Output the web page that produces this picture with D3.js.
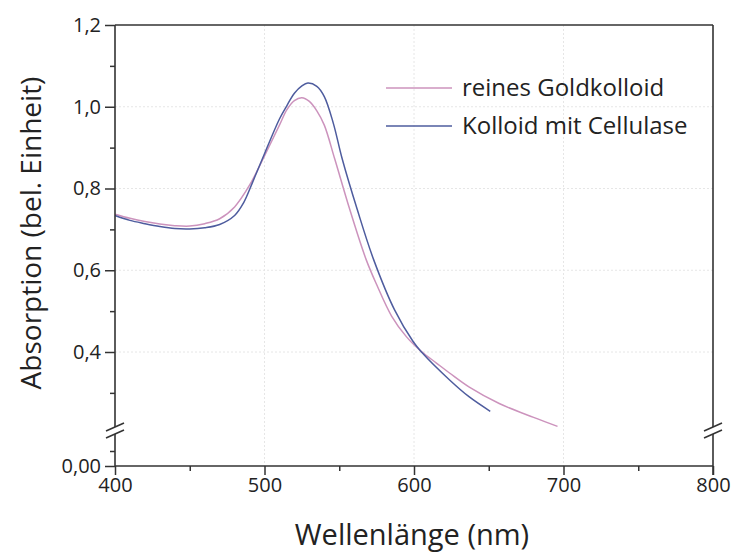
<!DOCTYPE html>
<html>
<head>
<meta charset="utf-8">
<script src="https://cdn.jsdelivr.net/npm/d3@7"></script>
<style>
  body { margin: 0; background: #fff; }
  svg { font-family: "Open Sans", "Noto Sans", sans-serif; }
</style>
</head>
<body>
<div id="chart-area"></div>
<script>
// wavelength (nm) / absorption values
var pureWl  = [400, 410, 420, 430, 440, 450, 460, 470, 480, 490, 500, 510, 515, 520, 525, 530, 535, 540, 547, 557, 568, 575, 585, 595, 605, 615, 624, 637, 657, 680, 696];
var pureAbs = [0.737, 0.727, 0.719, 0.713, 0.709, 0.708, 0.714, 0.726, 0.755, 0.808, 0.88, 0.955, 0.993, 1.015, 1.022, 1.013, 0.99, 0.955, 0.872, 0.749, 0.626, 0.565, 0.488, 0.437, 0.401, 0.373, 0.348, 0.314, 0.274, 0.24, 0.218];

var cellWl  = [400, 410, 420, 430, 440, 450, 460, 470, 480, 486, 492, 500, 510, 515, 520, 525, 529, 535, 540, 546, 552, 562, 573, 587, 599.5, 605, 624, 637, 651];
var cellAbs = [0.734, 0.722, 0.714, 0.707, 0.702, 0.701, 0.704, 0.712, 0.734, 0.765, 0.815, 0.885, 0.97, 1.003, 1.033, 1.051, 1.058, 1.05, 1.025, 0.96, 0.872, 0.749, 0.626, 0.503, 0.425, 0.40, 0.331, 0.29, 0.255];

var seriesNames = ["reines Goldkolloid", "Kolloid mit Cellulase"];
var seriesColors = ["#cc93bd", "#4e5c9e"];

var xMajor = [400, 500, 600, 700, 800];
var xMinor = [450, 550, 650, 750];
var yMajor = [0.4, 0.6, 0.8, 1.0, 1.2];
var yMinor = [0.3, 0.5, 0.7, 0.9, 1.1];
var yLowMajor = [0];
var yLowMinor = [0.025];

var W = 736, H = 560;
// plot box (don't call these top/left... window.top is read only)
var pL = 115, pR = 713, pT = 25, pB = 466;
var breakY = 430;

var svg = d3.select("#chart-area").append("svg")
    .attr("width", W).attr("height", H);

var x = d3.scaleLinear().domain([400, 800]).range([pL, pR]);
// upper segment of the broken y axis
var y = d3.scaleLinear().domain([0.4, 1.2]).range([352, pT]);
// lower segment (only 0,00)
var yLow = d3.scaleLinear().domain([0, 0.05]).range([pB, pB - 30]);

function fmt(d) { return d3.format(".1f")(d).replace(".", ","); }

// grid
var grid = svg.append("g").attr("stroke", "#e6e6e6").attr("stroke-width", 1)
    .attr("stroke-dasharray", "2,2");
grid.selectAll("line.v").data([500, 600, 700]).enter().append("line")
    .attr("x1", function(d) { return x(d); }).attr("x2", function(d) { return x(d); })
    .attr("y1", pT).attr("y2", pB);
grid.selectAll("line.h").data([0.4, 0.6, 0.8, 1.0]).enter().append("line")
    .attr("x1", pL).attr("x2", pR)
    .attr("y1", function(d) { return y(d); }).attr("y2", function(d) { return y(d); });

// curves
var line = d3.line().curve(d3.curveCatmullRom.alpha(0.5))
    .x(function(d) { return x(d[0]); })
    .y(function(d) { return y(d[1]); });

var pure = d3.zip(pureWl, pureAbs);
var cell = d3.zip(cellWl, cellAbs);

svg.append("path").datum(pure)
    .attr("fill", "none").attr("stroke", seriesColors[0]).attr("stroke-width", 1.5)
    .attr("d", line);
svg.append("path").datum(cell)
    .attr("fill", "none").attr("stroke", seriesColors[1]).attr("stroke-width", 1.5)
    .attr("d", line);

// axes
var axisColor = "#333";
var tickFont = 20;

svg.append("g").attr("transform", "translate(0," + pB + ")")
    .call(d3.axisBottom(x).tickValues(xMajor).tickSize(9).tickSizeOuter(0).tickPadding(3)
        .tickFormat(d3.format("d")));
svg.append("g").attr("transform", "translate(0," + pB + ")")
    .call(d3.axisBottom(x).tickValues(xMinor).tickSize(5).tickSizeOuter(0).tickFormat(""));

svg.append("g").attr("transform", "translate(" + pL + ",0)")
    .call(d3.axisLeft(y).tickValues(yMajor).tickSize(10).tickSizeOuter(0).tickPadding(4)
        .tickFormat(fmt));
svg.append("g").attr("transform", "translate(" + pL + ",0)")
    .call(d3.axisLeft(y).tickValues(yMinor).tickSize(5).tickSizeOuter(0).tickFormat(""));
svg.append("g").attr("transform", "translate(" + pL + ",0)")
    .call(d3.axisLeft(yLow).tickValues(yLowMajor).tickSize(10).tickSizeOuter(0).tickPadding(4)
        .tickFormat(function(d) { return "0,00"; }));
svg.append("g").attr("transform", "translate(" + pL + ",0)")
    .call(d3.axisLeft(yLow).tickValues(yLowMinor).tickSize(5).tickSizeOuter(0).tickFormat(""));

svg.selectAll(".domain").remove();
svg.selectAll(".tick line").attr("stroke", axisColor).attr("stroke-width", 1.5);
svg.selectAll(".tick text").attr("fill", "#222").style("font-size", tickFont + "px")
    .style("font-family", "'Open Sans', sans-serif");

// frame lines with breaks
var frame = svg.append("g").attr("stroke", axisColor).attr("stroke-width", 1.6).attr("fill", "none");
frame.append("line").attr("x1", pL).attr("x2", pR).attr("y1", pT).attr("y2", pT);
frame.append("line").attr("x1", pL).attr("x2", pR).attr("y1", pB).attr("y2", pB);
[pL, pR].forEach(function(ax) {
  frame.append("line").attr("x1", ax).attr("x2", ax).attr("y1", pT).attr("y2", breakY - 3);
  frame.append("line").attr("x1", ax).attr("x2", ax).attr("y1", breakY + 4).attr("y2", pB);
  frame.append("line").attr("x1", ax - 9).attr("x2", ax + 9).attr("y1", breakY + 1).attr("y2", breakY - 7);
  frame.append("line").attr("x1", ax - 9).attr("x2", ax + 9).attr("y1", breakY + 8).attr("y2", breakY);
});
frame.append("line").attr("x1", pR).attr("x2", pR).attr("y1", pB).attr("y2", pB + 9);

// axis titles
svg.append("text")
    .attr("x", 412).attr("y", 545)
    .attr("text-anchor", "middle").attr("fill", "#222")
    .style("font-size", "29px")
    .text("Wellenlänge (nm)");

svg.append("text")
    .attr("transform", "translate(41,233) rotate(-90)")
    .attr("text-anchor", "middle").attr("fill", "#222")
    .style("font-size", "28px")
    .text("Absorption (bel. Einheit)");

// legend
var legend = svg.append("g");
seriesNames.forEach(function(name, i) {
  var ly = 88 + i * 38;
  legend.append("line").attr("x1", 386).attr("x2", 452).attr("y1", ly).attr("y2", ly)
      .attr("stroke", seriesColors[i]).attr("stroke-width", 1.5);
  legend.append("text").attr("x", 462).attr("y", ly + 8)
      .attr("fill", "#222").style("font-size", "24px").text(name);
});
</script>
</body>
</html>
